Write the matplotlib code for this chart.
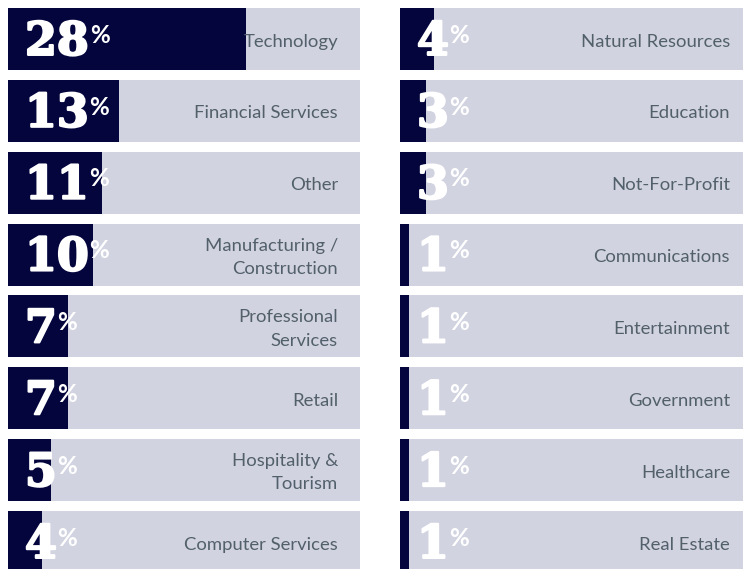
import matplotlib
matplotlib.use('Agg')
import matplotlib.pyplot as plt
import matplotlib.patheffects as pe

# share of respondents by industry, two columns of eight
left_labels = ['Technology', 'Financial Services', 'Other', 'Manufacturing /\nConstruction',
               'Professional\nServices', 'Retail', 'Hospitality &\nTourism', 'Computer Services']
left_values = [28, 13, 11, 10, 7, 7, 5, 4]
right_labels = ['Natural Resources', 'Education', 'Not-For-Profit', 'Communications',
                'Entertainment', 'Government', 'Healthcare', 'Real Estate']
right_values = [4, 3, 3, 1, 1, 1, 1, 1]

NAVY = '#03053c'
LIGHT = '#d1d3e0'
GREY = '#52606b'
XMAX = 41.4

W, H = 743, 569
fig = plt.figure(figsize=(W / 100, H / 100), dpi=100)

pitch = 71.86
bar_h = 62 / pitch
top_px = 8 - (pitch - 62) / 2
ax_h = 8 * pitch


def drawColumn(x_px, labels, values):
    ax = fig.add_axes([x_px / W, 1 - (top_px + ax_h) / H, 352 / W, ax_h / H])
    rows = list(range(len(values)))
    ax.barh(rows, [XMAX] * len(values), height=bar_h, color=LIGHT, left=0)
    ax.barh(rows, values, height=bar_h, color=NAVY, left=0)
    ax.set_xlim(0, XMAX)
    ax.set_ylim(len(values) - 0.5, -0.5)
    ax.axis('off')
    tr = ax.get_yaxis_transform()
    thick = [pe.withStroke(linewidth=1.6, foreground='white')]
    for i, (lab, val) in enumerate(zip(labels, values)):
        num = ax.text(17 / 352, i + 0.04, str(val), transform=tr, ha='left', va='center',
                      color='white', fontsize=33, fontweight='bold', family='DejaVu Serif',
                      path_effects=thick)
        ax.annotate('%', xy=(1, 1), xycoords=num, xytext=(0.5, -3.5), textcoords='offset points',
                    ha='left', va='top', color='white', fontsize=17.5, fontweight='bold',
                    family='Lato')
        ax.text(1 - 22 / 352, i + 0.035, lab, transform=tr, ha='right', va='center', color=GREY,
                fontsize=13.3, family='Lato', linespacing=1.55)


drawColumn(8, left_labels, left_values)
drawColumn(400, right_labels, right_values)

fig.savefig('out.png', dpi=100)
